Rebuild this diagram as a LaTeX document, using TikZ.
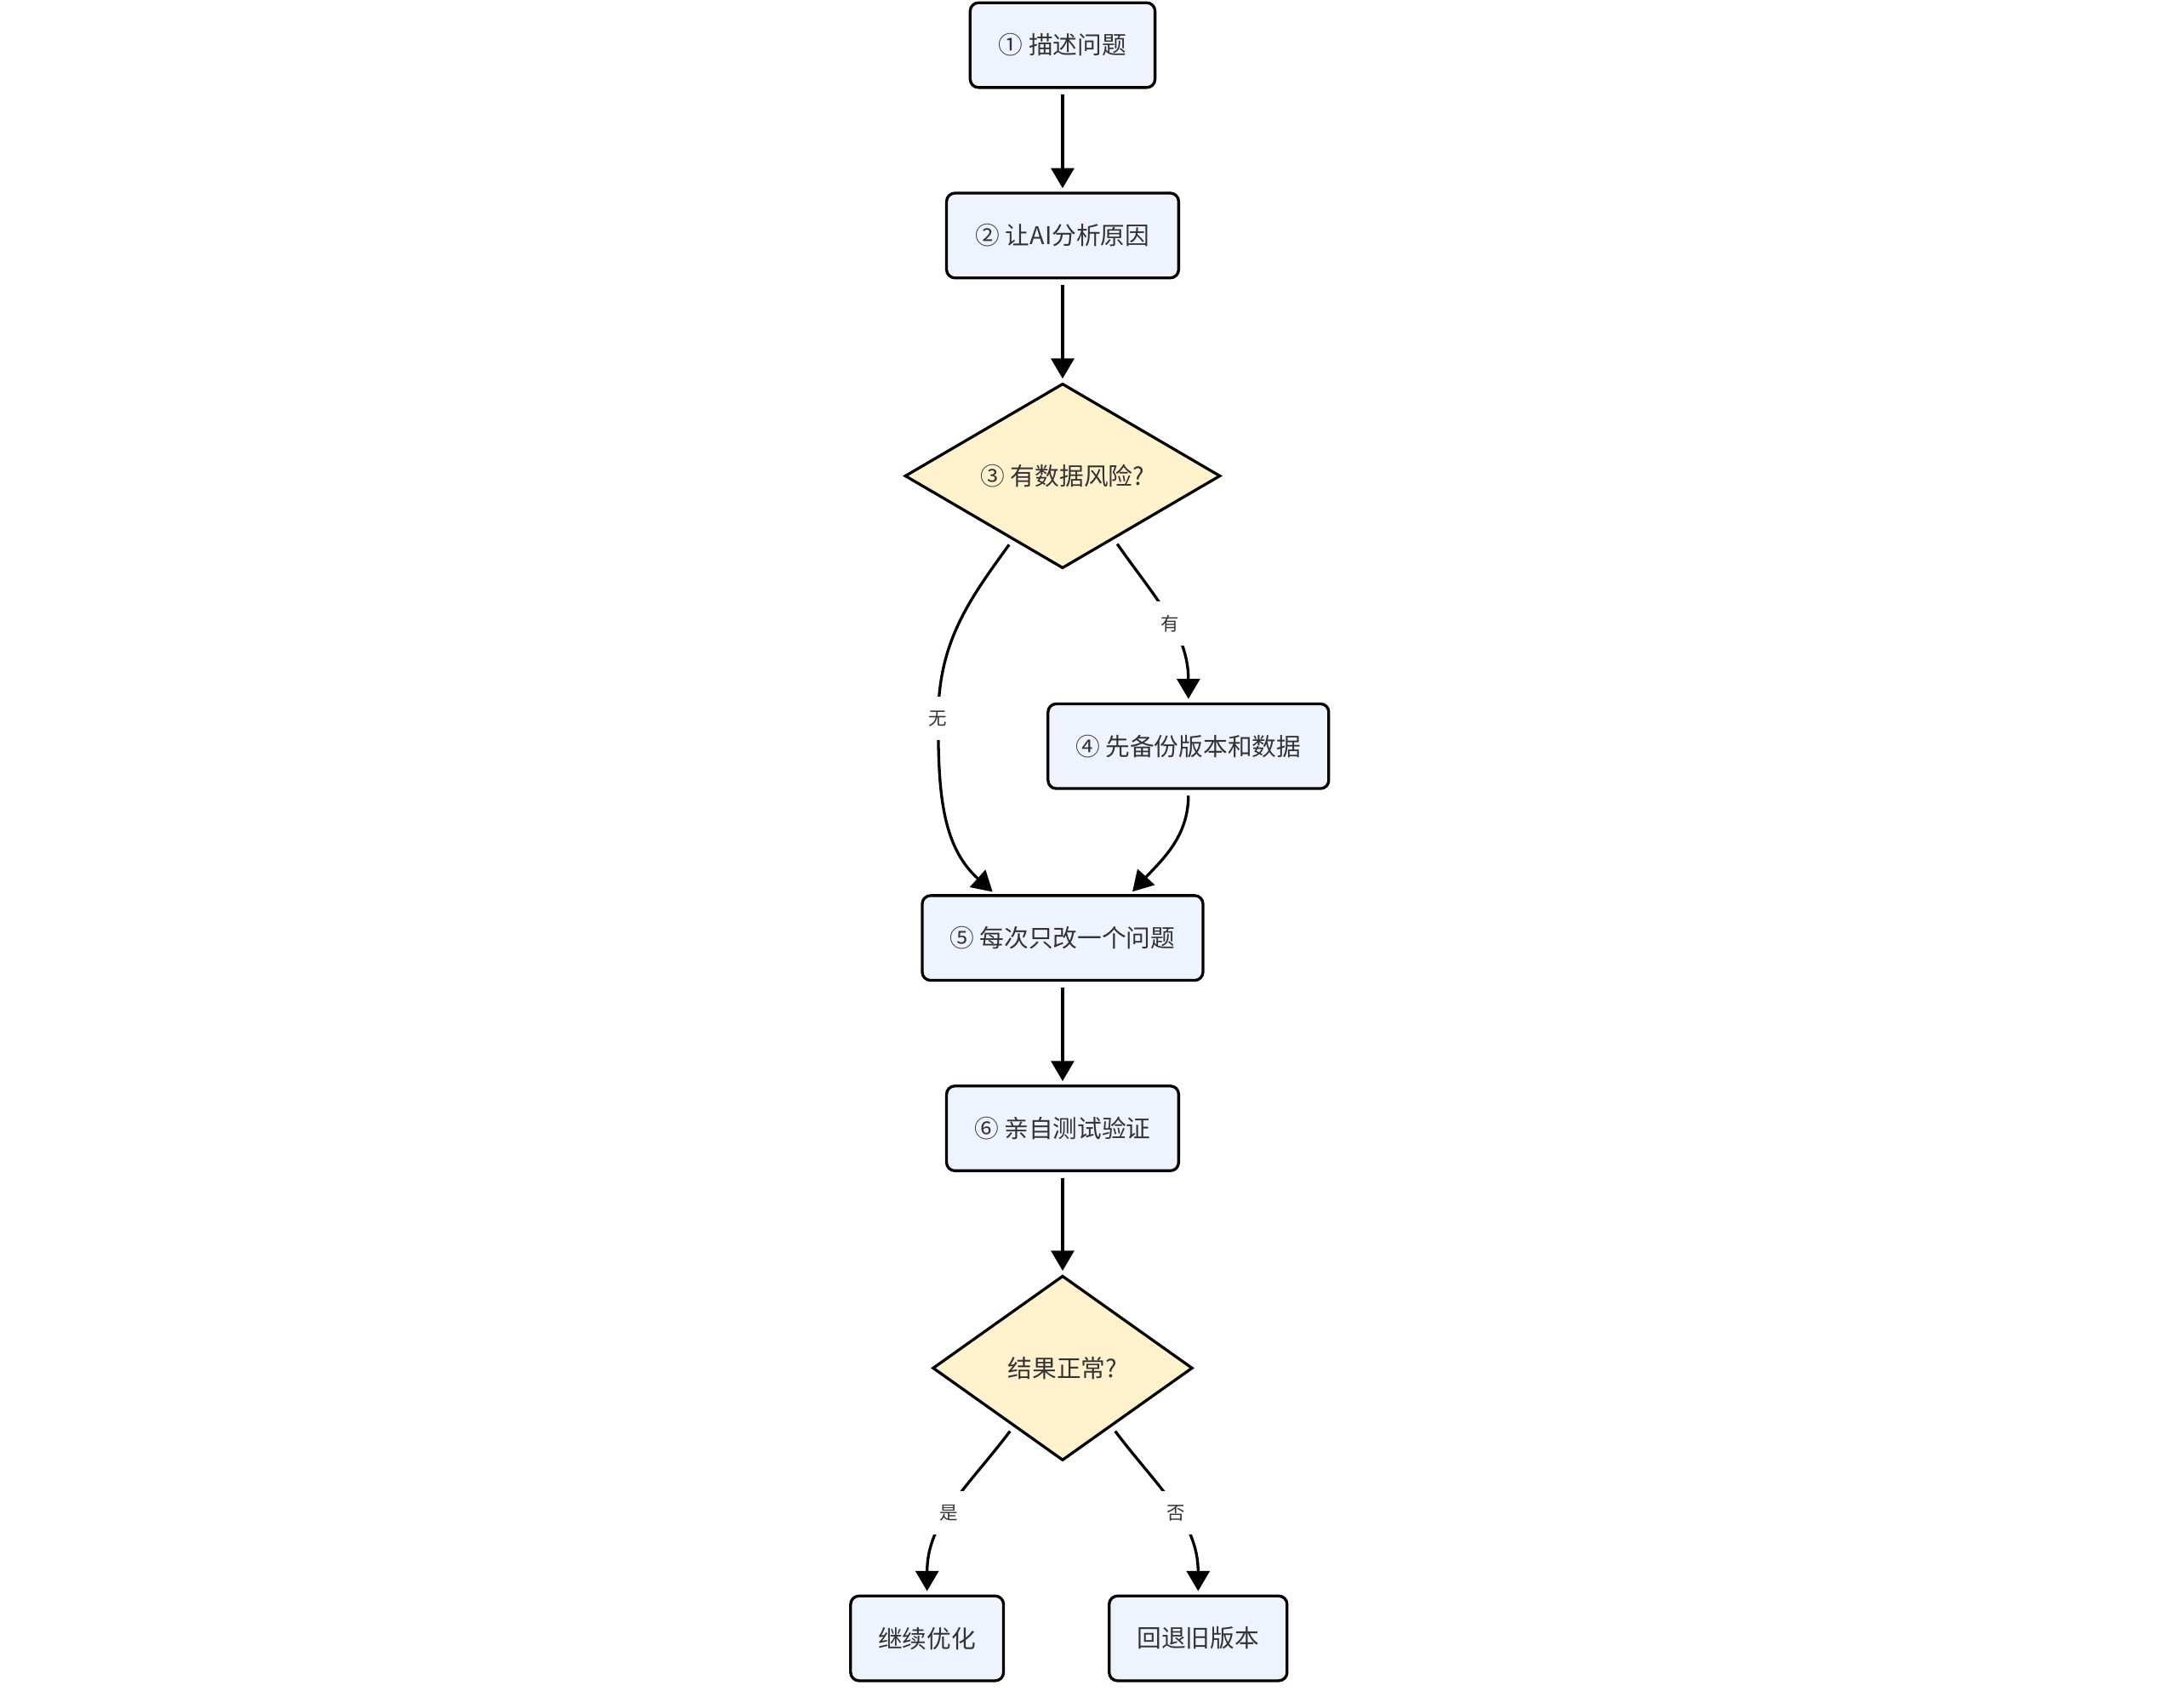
\documentclass[tikz,border=0pt]{standalone}
\usepackage{fontspec}
\setmainfont{Noto Sans CJK SC}
\usetikzlibrary{shapes.geometric,arrows.meta}
\definecolor{boxfill}{RGB}{238,243,253}
\definecolor{askfill}{RGB}{255,242,204}
\definecolor{ink}{RGB}{51,51,51}
\begin{document}
\begin{tikzpicture}[x=0.2mm,y=0.2mm,
  stepbox/.style={draw=black,line width=1.15pt,fill=boxfill,rounded corners=1.2mm,minimum height=12.2mm,inner sep=0pt,text=ink,font=\fontsize{10}{12}\selectfont},
  askbox/.style={draw=black,line width=1.15pt,fill=askfill,diamond,aspect=1.7,inner sep=0pt,minimum height=26.6mm,text=ink,font=\fontsize{10}{12}\selectfont},
  flow/.style={line width=1.15pt,-{Triangle[length=2.9mm,width=3.3mm]},shorten <=0.8mm,shorten >=0.5mm},
  edgelabel/.style={fill=white,inner xsep=1mm,inner ysep=2mm,text=ink,font=\fontsize{7.5}{9}\selectfont}]
\useasboundingbox (0,0) rectangle (1567,1229);
\node[stepbox,minimum width=26.6mm] (describe) at (764.5,1196.5) {① 描述问题};
\node[stepbox,minimum width=33.4mm] (analyze) at (764.5,1059.5) {② 让AI分析原因};
\node[askbox,minimum width=45.4mm] (risk) at (764.5,886.5) {③ 有数据风险?};
\node[stepbox,minimum width=40.4mm] (backup) at (855,692) {④ 先备份版本和数据};
\node[stepbox,minimum width=40.4mm] (change) at (764.5,554) {⑤ 每次只改一个问题};
\node[stepbox,minimum width=33.4mm] (test) at (764.5,417) {⑥ 亲自测试验证};
\node[askbox,minimum width=37.4mm] (check) at (764.5,244.5) {结果正常?};
\node[stepbox,minimum width=22mm] (keep) at (667,50) {继续优化};
\node[stepbox,minimum width=25.6mm] (rollback) at (862,50) {回退旧版本};
\draw[flow] (describe) -- (analyze);
\draw[flow] (analyze) -- (risk);
\draw[flow] (risk.-51) to[out=-55,in=90] node[edgelabel,pos=0.55] {有} (backup.north);
\draw[flow] (risk.232) to[out=234,in=90] (675,712) node[edgelabel] {无} to[out=-90,in=138] (change.147);
\draw[flow] (backup.south) to[out=-90,in=47] (change.33);
\draw[flow] (change) -- (test);
\draw[flow] (test) -- (check);
\draw[flow] (check.230) to[out=233,in=90] node[edgelabel,pos=0.55] {是} (keep.north);
\draw[flow] (check.-50) to[out=-53,in=90] node[edgelabel,pos=0.55] {否} (rollback.north);
\end{tikzpicture}
\end{document}
